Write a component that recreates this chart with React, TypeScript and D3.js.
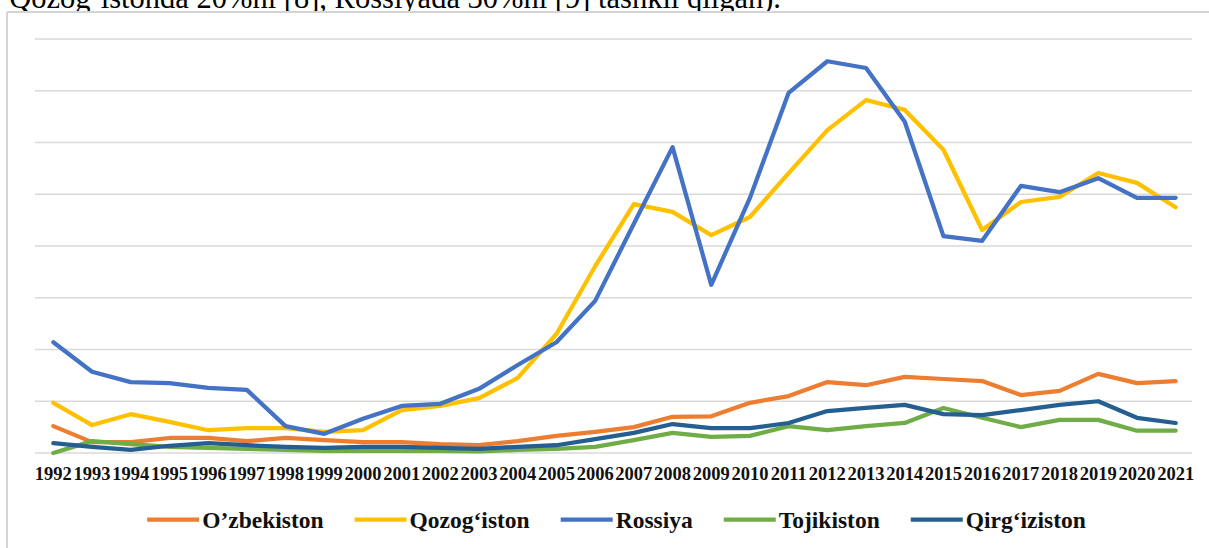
import { FC, useEffect, useRef } from "react";
import * as d3 from "d3";

const years: string[] = [
  "1992", "1993", "1994", "1995", "1996", "1997", "1998", "1999", "2000", "2001",
  "2002", "2003", "2004", "2005", "2006", "2007", "2008", "2009", "2010", "2011",
  "2012", "2013", "2014", "2015", "2016", "2017", "2018", "2019", "2020", "2021",
];

const ozbekiston = [5.2, 2.1, 2.1, 2.9, 2.9, 2.3, 2.9, 2.5, 2.1, 2.1, 1.7, 1.5, 2.3, 3.3, 4.1, 5.0, 7.0, 7.1, 9.7, 11.0, 13.7, 13.1, 14.7, 14.3, 13.9, 11.2, 12.0, 15.3, 13.5, 13.9];
const qozogiston = [9.7, 5.4, 7.5, 6.0, 4.4, 4.8, 4.8, 4.1, 4.4, 8.3, 9.1, 10.6, 14.5, 23.0, 36.1, 48.1, 46.6, 42.1, 45.6, 54.1, 62.4, 68.2, 66.3, 58.6, 43.1, 48.5, 49.5, 54.1, 52.2, 47.5];
const rossiya = [21.4, 15.7, 13.7, 13.5, 12.6, 12.2, 5.2, 3.7, 6.6, 9.1, 9.5, 12.4, 17.0, 21.4, 29.4, 44.3, 59.1, 32.5, 49.3, 69.6, 75.7, 74.4, 64.0, 41.9, 41.0, 51.6, 50.4, 53.1, 49.3, 49.3];
const tojikiston = [0.0, 2.3, 1.7, 1.2, 1.0, 0.8, 0.6, 0.4, 0.4, 0.4, 0.4, 0.3, 0.6, 0.8, 1.2, 2.5, 3.9, 3.1, 3.3, 5.2, 4.4, 5.2, 5.8, 8.7, 6.8, 5.0, 6.4, 6.4, 4.3, 4.3];
const qirgiziston = [1.9, 1.2, 0.6, 1.4, 1.9, 1.5, 1.2, 1.0, 1.2, 1.2, 1.0, 0.8, 1.2, 1.5, 2.7, 3.9, 5.6, 4.8, 4.8, 5.8, 8.1, 8.7, 9.3, 7.5, 7.3, 8.3, 9.3, 10.0, 6.8, 5.8];

const seriesNames = ["O’zbekiston", "Qozog‘iston", "Rossiya", "Tojikiston", "Qirg‘iziston"];
const seriesValues = [ozbekiston, qozogiston, rossiya, tojikiston, qirgiziston];
const seriesColors = ["#ED7D31", "#FFC000", "#4472C4", "#70AD47", "#255E91"];

const yTicks = [0, 10, 20, 30, 40, 50, 60, 70, 80];

const captionText = "Qozog‘istonda 20%ni [8], Rossiyada 30%ni [9] tashkil qilgan).";

const W = 1209, H = 548;
const plot = { left: 34, right: 1195, top: 39, bottom: 453 };
const serif = "'Liberation Serif', 'Times New Roman', serif";

const LineChart: FC = () => {
  const ref = useRef<SVGSVGElement>(null);

  useEffect(() => {
    document.body.style.margin = "0";
    const svg = d3.select(ref.current);
    svg.selectAll("*").remove();

    // text of the page above the picture, cut by the chart frame
    svg.append("text")
      .attr("x", 781)
      .attr("y", 8)
      .attr("text-anchor", "end")
      .style("font-family", serif)
      .style("font-size", "30.5px")
      .attr("fill", "#000")
      .text(captionText);

    // chart area
    svg.append("rect")
      .attr("x", 7).attr("y", 12)
      .attr("width", W).attr("height", H)
      .attr("fill", "#fff");
    svg.append("line")
      .attr("x1", 7).attr("x2", W).attr("y1", 12).attr("y2", 12)
      .attr("stroke", "#d4d4d4").attr("stroke-width", 2);
    svg.append("line")
      .attr("x1", 7).attr("x2", 7).attr("y1", 12).attr("y2", H)
      .attr("stroke", "#d4d4d4").attr("stroke-width", 2);

    const x = d3.scaleBand().domain(years).range([plot.left, plot.right]);
    const y = d3.scaleLinear().domain([0, 80]).range([plot.bottom, plot.top]);
    const cx = (d: string) => (x(d) as number) + x.bandwidth() / 2;

    // gridlines
    svg.append("g")
      .selectAll("line")
      .data(yTicks)
      .join("line")
      .attr("x1", plot.left + 1)
      .attr("x2", plot.right - 3)
      .attr("y1", d => y(d))
      .attr("y2", d => y(d))
      .attr("stroke", "#d9d9d9")
      .attr("stroke-width", 1.5);

    // x labels
    svg.append("g")
      .selectAll("text")
      .data(years)
      .join("text")
      .attr("x", d => cx(d))
      .attr("y", 479.5)
      .attr("text-anchor", "middle")
      .style("font-family", serif)
      .style("font-size", "18.5px")
      .style("font-weight", "bold")
      .attr("fill", "#111")
      .text(d => d);

    const line = d3.line<number>()
      .x((_, i) => cx(years[i]))
      .y(d => y(d));

    seriesValues.forEach((vals, i) => {
      svg.append("path")
        .datum(vals)
        .attr("d", line)
        .attr("fill", "none")
        .attr("stroke", seriesColors[i])
        .attr("stroke-width", 4.25)
        .attr("stroke-linejoin", "round")
        .attr("stroke-linecap", "round");
    });

    // legend, laid out from measured text widths and centred
    const legend = svg.append("g").attr("class", "legend");
    const lineLen = 52, textGap = 3, itemGap = 31;
    const items = seriesNames.map((name, i) => {
      const g = legend.append("g");
      g.append("line")
        .attr("x1", 0).attr("x2", lineLen)
        .attr("y1", 0).attr("y2", 0)
        .attr("stroke", seriesColors[i])
        .attr("stroke-width", 4.25);
      const t = g.append("text")
        .attr("x", lineLen + textGap)
        .attr("y", 8)
        .style("font-family", serif)
        .style("font-size", "23.5px")
        .style("font-weight", "bold")
        .attr("fill", "#111")
        .text(name);
      const w = (t.node() as SVGTextElement).getComputedTextLength();
      return { g, w: lineLen + textGap + w };
    });
    const total = d3.sum(items, d => d.w) + itemGap * (items.length - 1);
    let pos = 616.5 - total / 2;
    items.forEach(it => {
      it.g.attr("transform", `translate(${pos}, 519.5)`);
      pos += it.w + itemGap;
    });
  }, []);

  return <svg ref={ref} width={W} height={H} style={{ display: "block" }} />;
};

export default function App() {
  return <LineChart />;
}
